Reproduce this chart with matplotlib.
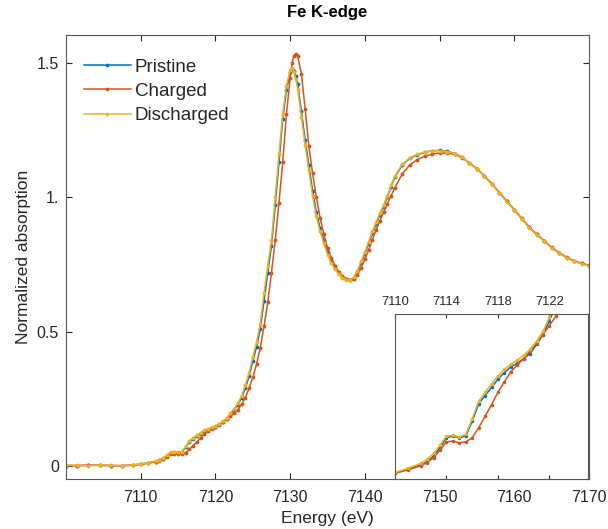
import matplotlib
matplotlib.use("Agg")
import matplotlib.pyplot as plt

plt.rcParams['font.family'] = ['Liberation Sans', 'DejaVu Sans']

energy = [7100, 7101.5, 7103, 7104.5, 7106, 7107.5, 7109, 7110, 7111,
          7112, 7112.5, 7113, 7113.5, 7114, 7114.5, 7115, 7115.5, 7116, 7116.5,
          7117, 7117.5, 7118, 7118.5, 7119, 7119.5, 7120, 7120.5, 7121, 7121.5,
          7122, 7122.5, 7123, 7123.5, 7124, 7124.5, 7125, 7125.5, 7126, 7126.5,
          7127, 7127.5, 7128, 7128.5, 7129, 7129.5, 7130, 7130.25, 7130.5, 7130.75,
          7131, 7131.5, 7132, 7132.5, 7133, 7133.5, 7134, 7134.5, 7135, 7135.5,
          7136, 7136.5, 7137, 7137.5, 7138, 7138.5, 7139, 7139.5, 7140, 7140.5,
          7141, 7141.5, 7142, 7142.5, 7143, 7143.5, 7144,
          7145, 7146, 7147, 7148, 7149, 7150, 7151, 7152, 7153, 7154, 7155, 7156,
          7157, 7158, 7159, 7160, 7161, 7162, 7163, 7164, 7165, 7166, 7167, 7168,
          7169, 7170]

pristine = [0.002, 0.002, 0.003, 0.003, 0.002, 0.001, 0.004, 0.007, 0.012,
            0.017, 0.021, 0.028, 0.038, 0.050, 0.052, 0.050, 0.052, 0.070, 0.091,
            0.101, 0.111, 0.121, 0.129, 0.136, 0.140, 0.146, 0.152, 0.163, 0.175,
            0.192, 0.210, 0.228, 0.255, 0.290, 0.335, 0.390, 0.445, 0.510, 0.615,
            0.720, 0.820, 0.970, 1.130, 1.290, 1.400, 1.465, 1.478, 1.470, 1.450,
            1.420, 1.320, 1.215, 1.120, 1.025, 0.945, 0.885, 0.840, 0.795, 0.762,
            0.737, 0.718, 0.704, 0.696, 0.693, 0.700, 0.722, 0.755, 0.790, 0.828,
            0.866, 0.900, 0.935, 0.965, 1.000, 1.040, 1.075,
            1.120, 1.145, 1.158, 1.168, 1.173, 1.175, 1.171, 1.163, 1.150, 1.127,
            1.106, 1.080, 1.050, 1.017, 0.985, 0.953, 0.920, 0.888, 0.862, 0.837,
            0.813, 0.793, 0.776, 0.763, 0.754, 0.746]

charged = [0.002, 0.002, 0.003, 0.003, 0.002, 0.002, 0.004, 0.007, 0.011,
           0.016, 0.020, 0.026, 0.035, 0.045, 0.046, 0.044, 0.045, 0.050, 0.062,
           0.076, 0.090, 0.105, 0.118, 0.130, 0.138, 0.146, 0.155, 0.165, 0.175,
           0.186, 0.197, 0.210, 0.230, 0.255, 0.290, 0.330, 0.380, 0.440, 0.520,
           0.610, 0.720, 0.840, 0.980, 1.130, 1.310, 1.445, 1.500, 1.527, 1.534,
           1.525, 1.460, 1.330, 1.190, 1.090, 1.000, 0.925, 0.862, 0.812, 0.776,
           0.746, 0.723, 0.706, 0.697, 0.694, 0.697, 0.712, 0.738, 0.770, 0.805,
           0.843, 0.878, 0.912, 0.945, 0.976, 1.006, 1.035,
           1.087, 1.120, 1.140, 1.153, 1.161, 1.165, 1.165, 1.160, 1.147, 1.128,
           1.106, 1.080, 1.050, 1.018, 0.986, 0.954, 0.922, 0.890, 0.863, 0.838,
           0.814, 0.794, 0.777, 0.764, 0.755, 0.747]

discharged = [0.003, 0.003, 0.002, 0.004, 0.003, 0.002, 0.005, 0.008, 0.013,
              0.019, 0.024, 0.031, 0.041, 0.052, 0.053, 0.051, 0.054, 0.073, 0.094,
              0.105, 0.115, 0.125, 0.133, 0.139, 0.144, 0.150, 0.157, 0.167, 0.179,
              0.196, 0.214, 0.234, 0.262, 0.300, 0.348, 0.405, 0.462, 0.530, 0.645,
              0.745, 0.840, 1.000, 1.160, 1.310, 1.415, 1.475, 1.483, 1.468, 1.440,
              1.405, 1.300, 1.195, 1.100, 1.005, 0.930, 0.873, 0.830, 0.787, 0.756,
              0.732, 0.714, 0.701, 0.694, 0.693, 0.702, 0.727, 0.762, 0.797, 0.835,
              0.873, 0.907, 0.941, 0.971, 1.005, 1.045, 1.078,
              1.123, 1.147, 1.160, 1.169, 1.173, 1.174, 1.170, 1.162, 1.149, 1.127,
              1.105, 1.079, 1.049, 1.016, 0.984, 0.952, 0.919, 0.887, 0.861, 0.836,
              0.812, 0.792, 0.775, 0.762, 0.753, 0.745]

series = [("Pristine", pristine, "#0072BD"),
          ("Charged", charged, "#D95319"),
          ("Discharged", discharged, "#EDB120")]

main_xticks = [7110, 7120, 7130, 7140, 7150, 7160, 7170]
main_yticks = [0, 0.5, 1, 1.5]
main_yticklabels = ["0", "0.5", "1.", "1.5"]
inset_xticks = [7110, 7114, 7118, 7122]

txt = "#262626"
edge = "#555555"

fig = plt.figure(figsize=(6.08, 5.29), dpi=100)
ax = fig.add_axes([0.1086, 0.0945, 0.8602, 0.8393])

for name, vals, col in series:
    ax.plot(energy, vals, '.-', color=col, lw=1.1, ms=3.5, label=name)

ax.set_xlim(7100, 7170)
ax.set_ylim(-0.048, 1.604)
ax.set_xticks(main_xticks)
ax.set_yticks(main_yticks)
ax.set_yticklabels(main_yticklabels)
ax.tick_params(direction='in', length=4, top=True, right=True,
               labelsize=11.5, colors=txt)
ax.tick_params(axis='x', pad=8)
ax.tick_params(axis='y', pad=5)
for s in ax.spines.values():
    s.set_color(edge)
ax.set_xlabel("Energy (eV)", fontsize=12.5, color=txt, labelpad=4)
ax.set_ylabel("Normalized absorption", fontsize=12.5, color=txt, labelpad=4)
ax.set_title("Fe K-edge", fontsize=12, fontweight='bold', color='black', pad=13)

leg = ax.legend(loc='upper left', frameon=False, fontsize=13.5, handlelength=2.5,
                handletextpad=0.2, labelspacing=0.38,
                bbox_to_anchor=(0.002, 0.985))
for t in leg.get_texts():
    t.set_color(txt)

ins = fig.add_axes([0.6497, 0.0945, 0.3174, 0.312])
for name, vals, col in series:
    ins.plot(energy, vals, '.-', color=col, lw=1.1, ms=3.0)
ins.set_xlim(7110, 7125)
ins.set_ylim(0, 0.2)
ins.set_xticks(inset_xticks)
ins.set_yticks([])
ins.tick_params(direction='in', length=3, top=True, bottom=True,
                labeltop=True, labelbottom=False, labelsize=9.3, colors=txt, pad=4)
for s in ins.spines.values():
    s.set_color(edge)

fig.savefig("out.png", dpi=100)
